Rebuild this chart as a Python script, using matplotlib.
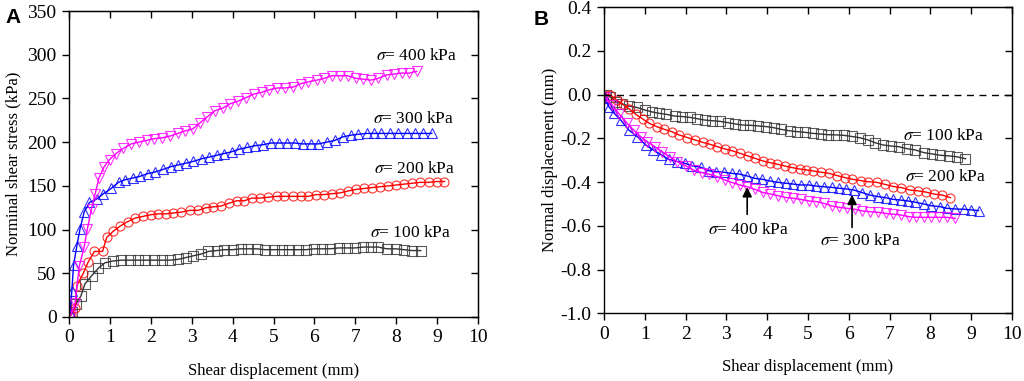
import matplotlib
matplotlib.use("Agg")
import matplotlib.pyplot as plt
from matplotlib.ticker import FormatStrFormatter, NullFormatter

plt.rcParams['font.family'] = ['Liberation Serif', 'DejaVu Serif']
plt.rcParams['mathtext.fontset'] = 'stix'
plt.rcParams['axes.unicode_minus'] = False

# (A) shear stress vs shear displacement
x100 = [0.0, 0.07, 0.17, 0.29, 0.39, 0.55, 0.72, 0.88, 1.07, 1.27, 1.48, 1.68, 1.87, 2.07, 2.27, 2.47,
        2.67, 2.86, 3.04, 3.23, 3.41, 3.61, 3.80, 4.00, 4.20, 4.38, 4.59, 4.79, 5.00, 5.20, 5.39, 5.59,
        5.79, 6.00, 6.19, 6.38, 6.59, 6.79, 6.99, 7.20, 7.38, 7.56, 7.77, 7.99, 8.19, 8.39, 8.60]
y100 = [0, 6, 15, 24, 38, 47, 56, 62, 64, 65, 65, 65, 65, 65, 65, 65, 66, 68, 70, 72, 75, 76, 77, 77,
        78, 78, 78, 77, 77, 77, 77, 77, 77, 78, 78, 78, 79, 79, 79, 80, 80, 80, 78, 78, 77, 76, 76]

x200 = [0.05, 0.15, 0.19, 0.35, 0.47, 0.62, 0.82, 0.92, 1.08, 1.25, 1.43, 1.61, 1.80, 2.00, 2.18, 2.37,
        2.55, 2.75, 2.96, 3.16, 3.35, 3.53, 3.72, 3.90, 4.10, 4.29, 4.47, 4.67, 4.87, 5.08, 5.26, 5.47,
        5.66, 5.85, 6.04, 6.23, 6.42, 6.63, 6.81, 7.02, 7.21, 7.40, 7.60, 7.81, 8.00, 8.19, 8.39, 8.58,
        8.79, 8.99, 9.18]
y200 = [2, 10, 36, 50, 63, 75, 75, 91, 98, 104, 109, 113, 115, 117, 118, 118, 119, 120, 122, 122, 125,
        126, 127, 130, 133, 133, 136, 136, 137, 138, 138, 138, 138, 138, 140, 140, 141, 142, 144, 146,
        147, 148, 149, 150, 151, 152, 153, 154, 154, 155, 155]

x300 = [0.02, 0.07, 0.11, 0.19, 0.27, 0.37, 0.50, 0.68, 0.84, 1.03, 1.21, 1.37, 1.56, 1.74, 1.92, 2.11,
        2.31, 2.49, 2.67, 2.86, 3.04, 3.24, 3.43, 3.61, 3.79, 3.98, 4.16, 4.36, 4.55, 4.74, 4.93, 5.13,
        5.32, 5.53, 5.71, 5.91, 6.10, 6.30, 6.50, 6.69, 6.89, 7.07, 7.28, 7.46, 7.64, 7.85, 8.05, 8.26,
        8.46, 8.66, 8.87]
y300 = [4, 30, 59, 81, 101, 120, 131, 135, 141, 147, 154, 157, 159, 161, 164, 166, 169, 172, 174, 176,
        178, 181, 183, 185, 187, 189, 192, 194, 196, 197, 199, 199, 199, 199, 198, 198, 198, 200, 202,
        206, 208, 209, 210, 210, 210, 210, 210, 210, 210, 210, 210]

x400 = [0.04, 0.15, 0.25, 0.37, 0.45, 0.55, 0.64, 0.73, 0.86, 0.99, 1.15, 1.33, 1.52, 1.70, 1.90, 2.08,
        2.28, 2.47, 2.66, 2.84, 3.02, 3.20, 3.38, 3.57, 3.76, 3.94, 4.14, 4.33, 4.52, 4.71, 4.90, 5.09,
        5.28, 5.48, 5.67, 5.85, 6.06, 6.24, 6.42, 6.63, 6.81, 7.02, 7.20, 7.38, 7.56, 7.77, 7.95, 8.13,
        8.32, 8.50]
y400 = [2, 16, 58, 80, 101, 124, 141, 159, 172, 180, 187, 193, 198, 200, 202, 204, 205, 207, 210, 213,
        215, 222, 229, 236, 239, 244, 247, 251, 255, 257, 260, 262, 262, 263, 267, 269, 271, 273, 276,
        276, 276, 273, 272, 271, 273, 277, 278, 279, 279, 281]

# (B) normal displacement vs shear displacement
rx100 = [0.05, 0.15, 0.29, 0.45, 0.61, 0.80, 1.00, 1.18, 1.35, 1.53, 1.74, 1.92, 2.11, 2.29, 2.47, 2.65,
         2.84, 3.04, 3.22, 3.41, 3.59, 3.78, 3.98, 4.16, 4.35, 4.55, 4.73, 4.92, 5.12, 5.31, 5.49, 5.69,
         5.88, 6.07, 6.27, 6.47, 6.65, 6.84, 7.04, 7.22, 7.43, 7.63, 7.84, 8.04, 8.24, 8.45, 8.65, 8.86]
ry100 = [0.0, -0.01, -0.032, -0.042, -0.052, -0.058, -0.07, -0.079, -0.085, -0.09, -0.098, -0.10,
         -0.104, -0.11, -0.116, -0.119, -0.122, -0.128, -0.134, -0.139, -0.14, -0.143, -0.146, -0.151,
         -0.159, -0.165, -0.169, -0.172, -0.177, -0.18, -0.183, -0.184, -0.186, -0.191, -0.197, -0.207,
         -0.22, -0.23, -0.235, -0.238, -0.247, -0.253, -0.265, -0.271, -0.277, -0.28, -0.284, -0.293]

rx200 = [0.0, 0.15, 0.31, 0.46, 0.62, 0.78, 0.95, 1.11, 1.29, 1.47, 1.66, 1.84, 2.04, 2.23, 2.42, 2.60,
         2.78, 2.96, 3.15, 3.33, 3.52, 3.70, 3.89, 4.07, 4.25, 4.43, 4.62, 4.80, 4.96, 5.13, 5.33, 5.52,
         5.71, 5.90, 6.09, 6.29, 6.47, 6.68, 6.88, 7.09, 7.29, 7.49, 7.70, 7.90, 8.10, 8.29, 8.49]
ry200 = [0.0, 0.0, -0.024, -0.044, -0.065, -0.09, -0.111, -0.131, -0.146, -0.158, -0.169, -0.184,
         -0.196, -0.207, -0.218, -0.227, -0.238, -0.248, -0.257, -0.268, -0.28, -0.291, -0.303, -0.311,
         -0.318, -0.326, -0.334, -0.34, -0.344, -0.349, -0.355, -0.36, -0.37, -0.379, -0.387, -0.393,
         -0.398, -0.401, -0.41, -0.42, -0.425, -0.436, -0.44, -0.446, -0.455, -0.459, -0.471]

rx300 = [0.02, 0.12, 0.25, 0.41, 0.61, 0.82, 1.02, 1.21, 1.41, 1.59, 1.80, 1.98, 2.16, 2.37, 2.57, 2.75,
         2.94, 3.13, 3.31, 3.51, 3.70, 3.88, 4.07, 4.26, 4.45, 4.64, 4.82, 5.02, 5.20, 5.39, 5.58, 5.76,
         5.94, 6.12, 6.33, 6.51, 6.71, 6.90, 7.09, 7.27, 7.45, 7.63, 7.84, 8.02, 8.23, 8.41, 8.61, 8.82,
         9.00, 9.18]
ry300 = [-0.017, -0.055, -0.085, -0.116, -0.162, -0.192, -0.23, -0.253, -0.276, -0.296, -0.306, -0.314,
         -0.325, -0.332, -0.348, -0.352, -0.355, -0.36, -0.363, -0.372, -0.383, -0.387, -0.395, -0.401,
         -0.405, -0.409, -0.413, -0.413, -0.418, -0.421, -0.424, -0.428, -0.431, -0.436, -0.448, -0.459,
         -0.466, -0.471, -0.479, -0.482, -0.486, -0.492, -0.50, -0.508, -0.512, -0.52, -0.523, -0.524,
         -0.527, -0.53]

rx400 = [0.02, 0.20, 0.38, 0.57, 0.73, 0.90, 1.06, 1.25, 1.43, 1.61, 1.80, 2.00, 2.20, 2.41, 2.57, 2.78,
         2.96, 3.14, 3.33, 3.51, 3.70, 3.89, 4.08, 4.26, 4.45, 4.64, 4.82, 5.02, 5.20, 5.39, 5.58, 5.76,
         5.96, 6.15, 6.33, 6.51, 6.71, 6.90, 7.09, 7.27, 7.47, 7.65, 7.84, 8.02, 8.22, 8.41, 8.61]
ry400 = [-0.01, -0.047, -0.09, -0.131, -0.162, -0.192, -0.215, -0.238, -0.261, -0.284, -0.306, -0.325,
         -0.345, -0.357, -0.363, -0.375, -0.39, -0.402, -0.413, -0.421, -0.433, -0.447, -0.454, -0.462,
         -0.47, -0.474, -0.479, -0.486, -0.489, -0.497, -0.509, -0.515, -0.52, -0.524, -0.532, -0.535,
         -0.538, -0.543, -0.547, -0.55, -0.558, -0.561, -0.561, -0.561, -0.561, -0.561, -0.566]

styles = [('#333333', 's'), ('#ff0000', 'o'), ('#0000ff', '^'), ('#ff00ff', 'v')]


def draw(ax, x, y, color, marker):
    ax.plot(x, y, '-', color=color, lw=1.0)
    ax.plot(x, y, marker, ms=6.5, mfc='none', mec=color, mew=0.8, alpha=0.8)


def style_axes(ax, xticks, yticks):
    ax.set_xticks(xticks)
    ax.set_yticks(yticks)
    # bottom/left ticks outward, top/right ticks inward
    ax.tick_params(direction='out', length=5, width=1, labelsize=14, pad=4)
    top = ax.secondary_xaxis('top')
    top.set_xticks(xticks)
    top.xaxis.set_major_formatter(NullFormatter())
    top.tick_params(direction='in', length=5, width=1)
    right = ax.secondary_yaxis('right')
    right.set_yticks(yticks)
    right.yaxis.set_major_formatter(NullFormatter())
    right.tick_params(direction='in', length=5, width=1)
    for s in ax.spines.values():
        s.set_linewidth(1.0)


fig = plt.figure(figsize=(10.24, 3.81), dpi=100)
ax1 = fig.add_axes([0.0674, 0.168, 0.3994, 0.803])
ax2 = fig.add_axes([0.5898, 0.1777, 0.3985, 0.8033])

for (c, m), (x, y) in zip(styles, [(x100, y100), (x200, y200), (x300, y300), (x400, y400)]):
    draw(ax1, x, y, c, m)
ax1.set_xlim(0, 10)
ax1.set_ylim(0, 350)
style_axes(ax1, list(range(0, 11)), list(range(0, 351, 50)))
ax1.set_xlabel('Shear displacement (mm)', fontsize=12, labelpad=12)
ax1.set_ylabel('Norminal shear stress (kPa)', fontsize=12, labelpad=4)
ax1.text(8.5, 299, r'$\sigma$= 400 kPa', fontsize=12.5, ha='center', va='center')
ax1.text(8.42, 226, r'$\sigma$= 300 kPa', fontsize=12.5, ha='center', va='center')
ax1.text(8.46, 169, r'$\sigma$= 200 kPa', fontsize=12.5, ha='center', va='center')
ax1.text(8.36, 96, r'$\sigma$= 100 kPa', fontsize=12.5, ha='center', va='center')

for (c, m), (x, y) in zip(styles, [(rx100, ry100), (rx200, ry200), (rx300, ry300), (rx400, ry400)]):
    draw(ax2, x, y, c, m)
ax2.axhline(0, color='black', ls=(0, (5, 4)), lw=1.0)
ax2.set_xlim(0, 10)
ax2.set_ylim(-1.0, 0.4)
style_axes(ax2, list(range(0, 11)), [0.4, 0.2, 0.0, -0.2, -0.4, -0.6, -0.8, -1.0])
ax2.yaxis.set_major_formatter(FormatStrFormatter('%.1f'))
ax2.set_xlabel('Shear displacement (mm)', fontsize=12, labelpad=12)
ax2.set_ylabel('Normal displacement (mm)', fontsize=12, labelpad=2)
ax2.text(8.33, -0.19, r'$\sigma$= 100 kPa', fontsize=12.5, ha='center', va='center')
ax2.text(8.36, -0.375, r'$\sigma$= 200 kPa', fontsize=12.5, ha='center', va='center')
ax2.text(3.55, -0.62, r'$\sigma$= 400 kPa', fontsize=12.5, ha='center', va='center')
ax2.text(6.29, -0.668, r'$\sigma$= 300 kPa', fontsize=12.5, ha='center', va='center')
ax2.annotate('', xy=(3.51, -0.41), xytext=(3.51, -0.56),
             arrowprops=dict(arrowstyle='-|>', color='black', lw=1.2, mutation_scale=14))
ax2.annotate('', xy=(6.08, -0.445), xytext=(6.08, -0.62),
             arrowprops=dict(arrowstyle='-|>', color='black', lw=1.2, mutation_scale=14))

fig.text(0.005, 0.94, 'A', fontsize=15, fontweight='bold', family='Liberation Sans')
fig.text(0.521, 0.934, 'B', fontsize=15, fontweight='bold', family='Liberation Sans')

fig.savefig('out.png', dpi=100)
